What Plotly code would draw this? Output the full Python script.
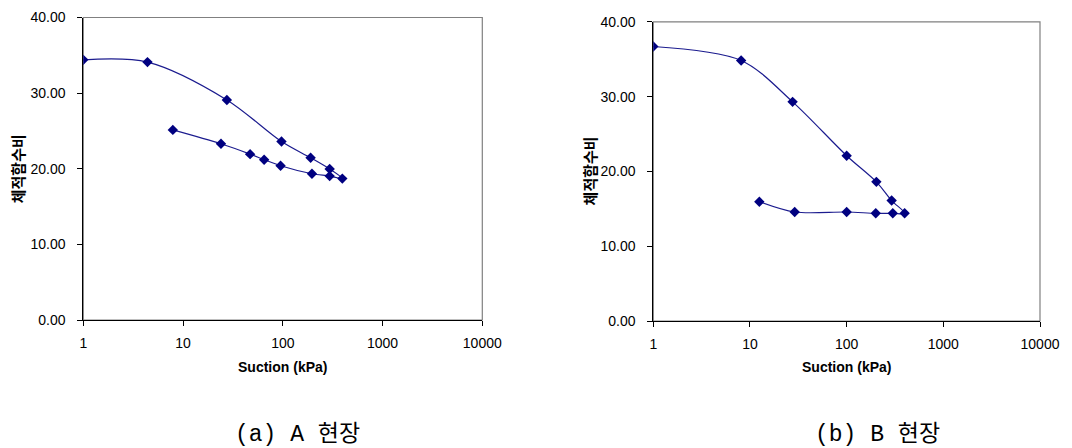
import plotly.graph_objects as go

# ---- data ----
suction_a = [1, 4.4, 27.5, 97, 190, 295, 395, 295, 196, 95, 65, 47, 24, 7.9]
theta_a = [34.4, 34.1, 29.1, 23.6, 21.45, 19.96, 18.7, 19.03, 19.34, 20.4, 21.2, 21.93, 23.3, 25.14]

suction_b = [1, 8.1, 27.6, 100, 203, 292, 398, 300, 200, 100, 29, 12.5]
theta_b = [36.7, 34.83, 29.3, 22.1, 18.6, 16.1, 14.4, 14.4, 14.4, 14.57, 14.57, 15.95]

x_ticks = [1, 10, 100, 1000, 10000]
x_ticktext = ["1", "10", "100", "1000", "10000"]
y_ticks = [0, 10, 20, 30, 40]

x_title = "Suction (kPa)"
y_title = "체적함수비"
captions = ["(a) A 현장", "(b) B 현장"]

# page body has an 8px margin: figure pixel = window pixel - 8
OFF = 8
W, H = 1072 - OFF, 448 - OFF
# plot areas in window pixels (left, right, top, bottom)
areas = [(83.3, 482.3, 17.5, 320), (653.3, 1040, 21.8, 321)]

LINE = "#1c1c8f"
MARK = "#000080"
TICKFONT = dict(family="Liberation Sans, Arial, sans-serif", size=14, color="#000000")


def px(v):
    return (v - OFF) / W


def py(v):
    return 1 - (v - OFF) / H


fig = go.Figure()
for i, (xs, ys) in enumerate([(suction_a, theta_a), (suction_b, theta_b)]):
    n = "" if i == 0 else "2"
    fig.add_trace(go.Scatter(
        x=xs, y=ys, mode="lines+markers",
        line=dict(color=LINE, width=1.2, shape="spline", smoothing=0.9),
        marker=dict(symbol="diamond", size=8, color=MARK),
        xaxis="x" + n, yaxis="y" + n, showlegend=False,
    ))

layout = dict(
    template="none",
    width=W, height=H, margin=dict(l=0, r=0, t=0, b=0, autoexpand=False),
    paper_bgcolor="white", plot_bgcolor="white", showlegend=False,
)
shapes = []
annotations = []
for i, (l, r, t, b) in enumerate(areas):
    n = "" if i == 0 else "2"
    layout["xaxis" + n] = dict(
        type="log", range=[0, 4], domain=[px(l), px(r)], automargin=False,
        anchor="y" + n, tickvals=x_ticks, ticktext=x_ticktext,
        showgrid=False, zeroline=False, showline=True, linecolor="black", linewidth=1,
        ticks="outside", ticklen=5, tickcolor="black", tickfont=TICKFONT,
        ticklabelstandoff=5,
    )
    layout["yaxis" + n] = dict(
        range=[0, 40], domain=[py(b), py(t)], automargin=False,
        anchor="x" + n, tickvals=y_ticks, tickformat=".2f",
        showgrid=False, zeroline=False, showline=True, linecolor="black", linewidth=1,
        ticks="outside", ticklen=5, tickcolor="black", tickfont=TICKFONT,
        ticklabelstandoff=9,
    )
    shapes.append(dict(
        type="rect", xref=f"x{n} domain", yref=f"y{n} domain",
        x0=0, x1=1, y0=0, y1=1, line=dict(color="#808080", width=1.2), layer="below",
    ))
    cx = (l + r) / 2
    annotations.append(dict(
        text=x_title, x=px(cx), y=py(367), xref="paper", yref="paper",
        showarrow=False, xanchor="center", yanchor="middle",
        font=dict(family="Liberation Sans, Arial, sans-serif", size=14, color="black", weight="bold"),
    ))
    ytx = 17.5 if i == 0 else 589
    annotations.append(dict(
        text=y_title, x=px(ytx), y=py((t + b) / 2), xref="paper", yref="paper",
        showarrow=False, xanchor="center", yanchor="middle", textangle=-90,
        borderpad=0,
        font=dict(family="Noto Sans CJK KR, sans-serif", size=15, color="black", weight="bold"),
    ))
    capx = 297 if i == 0 else 877
    annotations.append(dict(
        text=captions[i], x=px(capx), y=py(434), xref="paper", yref="paper",
        showarrow=False, xanchor="center", yanchor="middle",
        font=dict(family="Liberation Mono, Noto Sans CJK KR, monospace", size=23, color="black"),
    ))
layout["shapes"] = shapes
layout["annotations"] = annotations
fig.update_layout(**layout)
fig.write_html("out.html")
